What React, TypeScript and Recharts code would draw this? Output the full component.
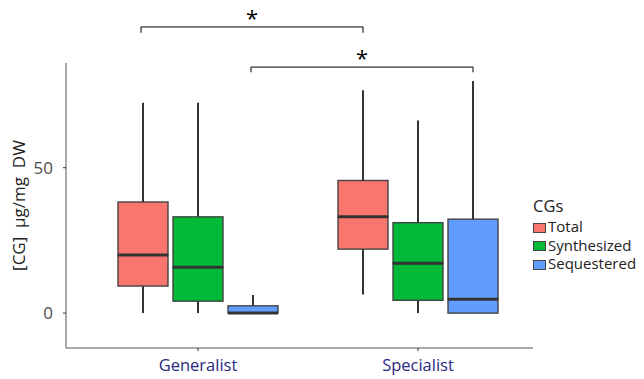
import {
  ComposedChart,
  Bar,
  XAxis,
  YAxis,
  Legend,
  ReferenceLine,
} from 'recharts'

const CATEGORIES = ['Generalist', 'Specialist']

// five-number summaries per group: [Generalist, Specialist]
const TOTAL_MIN = [0, 6.4]
const TOTAL_Q1 = [9.3, 22]
const TOTAL_MED = [20, 33.1]
const TOTAL_Q3 = [38.2, 45.6]
const TOTAL_MAX = [72.3, 76.6]

const SYNTH_MIN = [0, 0]
const SYNTH_Q1 = [4.1, 4.4]
const SYNTH_MED = [15.8, 17.1]
const SYNTH_Q3 = [33.1, 31.1]
const SYNTH_MAX = [72.3, 66.2]

const SEQ_MIN = [0, 0]
const SEQ_Q1 = [0, 0]
const SEQ_MED = [0, 4.8]
const SEQ_Q3 = [2.5, 32.3]
const SEQ_MAX = [6.2, 79.8]

const Y_TICKS = [0, 50]

const SERIES = [
  { key: 'total', label: 'Total', color: '#F8766D', stats: [TOTAL_MIN, TOTAL_Q1, TOTAL_MED, TOTAL_Q3, TOTAL_MAX] },
  { key: 'synth', label: 'Synthesized', color: '#00BA38', stats: [SYNTH_MIN, SYNTH_Q1, SYNTH_MED, SYNTH_Q3, SYNTH_MAX] },
  { key: 'seq', label: 'Sequestered', color: '#619CFF', stats: [SEQ_MIN, SEQ_Q1, SEQ_MED, SEQ_Q3, SEQ_MAX] },
]

// significance brackets between the same series in both groups
// slot: -1 = first box of the group, +1 = last box
const BRACKETS = [
  { slot: -1, y: 98.4, drop: 96.4 },
  { slot: 1, y: 84.6, drop: 82.8 },
]

const BAR_SIZE = 50
const BAR_GAP = 5

// stacked segments: base -> lower whisker -> lower box -> upper box -> upper whisker
const data = CATEGORIES.map((name, i) => {
  const row: Record<string, number | string> = { name }
  SERIES.forEach(({ key, stats }) => {
    const [mn, q1, med, q3, mx] = stats.map((s) => s[i])
    row[`${key}_base`] = mn
    row[`${key}_lw`] = q1 - mn
    row[`${key}_lb`] = med - q1
    row[`${key}_ub`] = q3 - med
    row[`${key}_uw`] = mx - q3
  })
  return row
})

const FONT = '"Open Sans", "Noto Sans", sans-serif'
const INK = '#333333'

const Whisker = (props: any) => {
  const { x, y, width, height } = props
  if (!height) return <g />
  const cx = x + width / 2
  return <line x1={cx} x2={cx} y1={y} y2={y + height} stroke={INK} strokeWidth={2} />
}

const makeLowerBox = (color: string) => (props: any) => {
  const { x, y, width, height } = props
  if (!height) return <g />
  return (
    <rect x={x} y={y} width={width} height={height} fill={color} stroke="#444" strokeWidth={1.4} />
  )
}

const makeUpperBox = (color: string) => (props: any) => {
  const { x, y, width, height } = props
  return (
    <g>
      {height > 0 && (
        <rect x={x} y={y} width={width} height={height} fill={color} stroke="#444" strokeWidth={1.4} />
      )}
      <line x1={x} x2={x + width} y1={y + height} y2={y + height} stroke={INK} strokeWidth={3} />
    </g>
  )
}

// bracket drawn from the category-centre segment, shifted to the dodged box
const makeBracket = (slot: number, dropPx: (y: number) => number) => (props: any) => {
  const { x1, x2, y1 } = props
  const dx = slot * (BAR_SIZE + BAR_GAP)
  const a = x1 + dx - 2
  const b = x2 + dx
  const yd = dropPx(y1)
  return (
    <g>
      <path d={`M${a},${yd}V${y1}H${b}V${yd}`} fill="none" stroke="#000" strokeWidth={1} />
      <text x={(a + b) / 2} y={y1 - 1} textAnchor="middle" fontSize={22} fontFamily={FONT} fill="#000">
        *
      </text>
    </g>
  )
}

const LegendBox = () => (
  <div style={{ fontFamily: FONT, color: '#222' }}>
    <div style={{ fontSize: 16.5, lineHeight: '20px', marginBottom: 1 }}>CGs</div>
    {SERIES.map((s) => (
      <div key={s.key} style={{ display: 'flex', alignItems: 'center', height: 18.5 }}>
        <span
          style={{
            display: 'inline-block',
            width: 11,
            height: 8,
            background: s.color,
            border: '1px solid #444',
            marginRight: 2,
            marginTop: 3,
          }}
        />
        <span style={{ fontSize: 15 }}>{s.label}</span>
      </div>
    ))}
  </div>
)

const YLabel = (props: any) => {
  const { viewBox } = props
  const x = 18
  const y = viewBox ? viewBox.y + viewBox.height / 2 : 205
  return (
    <text
      x={x}
      y={y}
      transform={`rotate(-90, ${x}, ${y})`}
      textAnchor="middle"
      dominantBaseline="central"
      fontSize={17}
      fontFamily={FONT}
      fill="#222"
      style={{ whiteSpace: 'pre' }}
    >
      {'[CG]\u00a0\u00a0µg/mg\u00a0\u00a0DW'}
    </text>
  )
}

export default function App() {
  return (
    <div style={{ position: 'absolute', left: 0, top: 0, width: 644, height: 379, background: '#fff' }}>
      <ComposedChart
        width={644}
        height={379}
        data={data}
        margin={{ top: 63, right: 111, bottom: 0, left: 0 }}
        barSize={BAR_SIZE}
        barGap={BAR_GAP}
      >
        <XAxis
          dataKey="name"
          height={31}
          padding={{ left: 22, right: 5 }}
          axisLine={{ stroke: '#555' }}
          tickLine={{ stroke: '#333' }}
          tickSize={3}
          tickMargin={8}
          tick={{ fill: '#29297f', fontSize: 16.5, fontFamily: FONT }}
        />
        <YAxis
          width={66}
          domain={[-12, 86]}
          ticks={Y_TICKS}
          allowDataOverflow
          axisLine={{ stroke: '#555' }}
          tickLine={{ stroke: '#333' }}
          tickSize={3}
          tickMargin={10}
          tick={{ fill: '#4d4d4d', fontSize: 17, fontFamily: FONT }}
          label={<YLabel />}
        />
        {SERIES.map((s) => [
          <Bar key={`${s.key}_base`} dataKey={`${s.key}_base`} stackId={s.key} fill="transparent" shape={() => <g />} isAnimationActive={false} legendType="none" />,
          <Bar key={`${s.key}_lw`} dataKey={`${s.key}_lw`} stackId={s.key} shape={Whisker} isAnimationActive={false} legendType="none" />,
          <Bar key={`${s.key}_lb`} dataKey={`${s.key}_lb`} stackId={s.key} fill={s.color} shape={makeLowerBox(s.color)} isAnimationActive={false} legendType="none" />,
          <Bar key={`${s.key}_ub`} dataKey={`${s.key}_ub`} stackId={s.key} fill={s.color} shape={makeUpperBox(s.color)} isAnimationActive={false} legendType="none" />,
          <Bar key={`${s.key}_uw`} dataKey={`${s.key}_uw`} stackId={s.key} shape={Whisker} isAnimationActive={false} legendType="none" />,
        ])}
        {BRACKETS.map((b, i) => (
          <ReferenceLine
            key={`br${i}`}
            segment={[{ x: CATEGORIES[0], y: b.y }, { x: CATEGORIES[1], y: b.y }]}
            ifOverflow="visible"
            shape={makeBracket(b.slot, (y1) => y1 + ((b.y - b.drop) * 285) / 98)}
          />
        ))}
        <Legend
          layout="horizontal"
          verticalAlign="middle"
          align="center"
          content={<LegendBox />}
          wrapperStyle={{ left: 533, top: 196, width: 111 }}
        />
      </ComposedChart>
    </div>
  )
}
